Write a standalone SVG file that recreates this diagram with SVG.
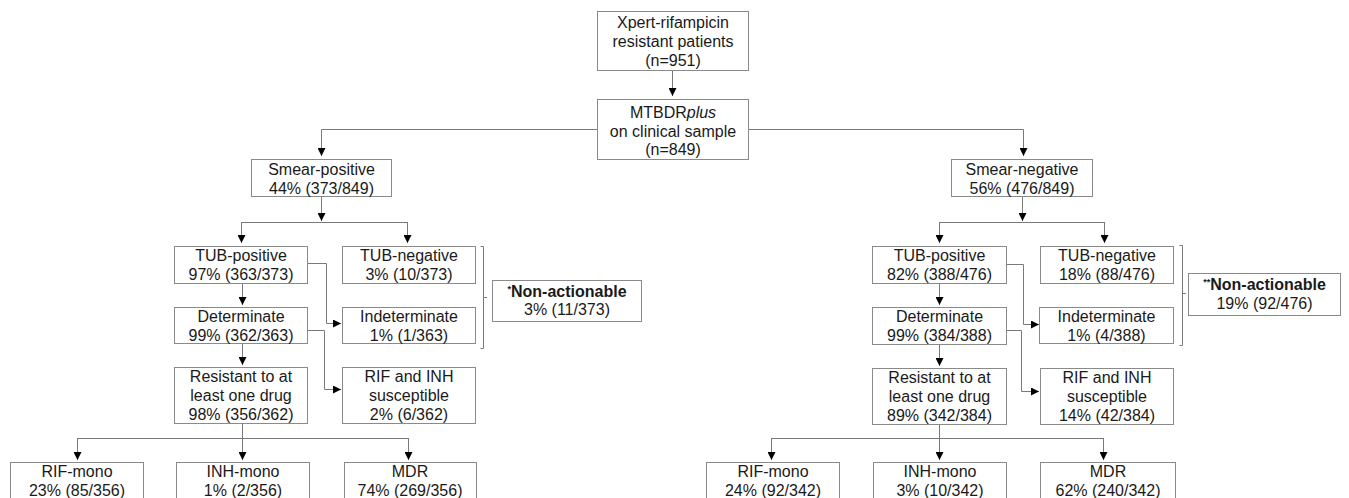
<svg xmlns="http://www.w3.org/2000/svg" width="1349" height="498" viewBox="0 0 1349 498">
<defs>
<marker id="ah" markerUnits="userSpaceOnUse" markerWidth="8" markerHeight="8" refX="8" refY="4" orient="auto"><path d="M0,0 L8,4 L0,8 z" fill="#000"/></marker>
<style>
.b{fill:#fff;stroke:#8a8a8a;stroke-width:1}
.c{fill:none;stroke:#7a7a7a;stroke-width:1}
.a{marker-end:url(#ah)}
text{font-family:"Liberation Sans",Arial,sans-serif;font-size:16px;fill:#1a1a1a;text-anchor:middle}
.bd{font-weight:bold}
</style>
</defs>
<rect width="1349" height="498" fill="#fff"/>
<g id="connectors">
<path class="c a" d="M672.5,71 V96"/>
<path class="c a" d="M597,129.5 H321.5 V156"/>
<path class="c a" d="M749,129.5 H1023.5 V156"/>
<path class="c a" d="M321.5,196 V221"/>
<path class="c" d="M241.5,222.5 H407.5"/>
<path class="c a" d="M241.5,222 V243"/>
<path class="c a" d="M407.5,222 V243"/>
<path class="c a" d="M1022.5,196 V221"/>
<path class="c" d="M939.5,222.5 H1104.5"/>
<path class="c a" d="M939.5,222 V243"/>
<path class="c a" d="M1104.5,222 V243"/>
<path class="c a" d="M242.5,283 V305"/>
<path class="c a" d="M242.5,343 V365"/>
<path class="c a" d="M308,263.5 H326.5 V323.5 H341"/>
<path class="c a" d="M307,330.5 H324.5 V389.5 H341"/>
<path class="c a" d="M939.5,283 V305"/>
<path class="c a" d="M939.5,344 V366"/>
<path class="c a" d="M1006,264.5 H1023.5 V324.5 H1039"/>
<path class="c a" d="M1006,330.5 H1021.5 V391.5 H1039"/>
<path class="c" d="M242.5,423 V438.5"/>
<path class="c" d="M77.5,438.5 H408.5"/>
<path class="c a" d="M77.5,438 V460"/>
<path class="c a" d="M242.5,438 V460"/>
<path class="c a" d="M408.5,438 V460"/>
<path class="c" d="M939.5,424 V438.5"/>
<path class="c" d="M771.5,438.5 H1103.5"/>
<path class="c a" d="M771.5,438 V460"/>
<path class="c a" d="M939.5,438 V460"/>
<path class="c a" d="M1103.5,438 V460"/>
<path class="c" d="M480.5,246.5 H483.5 V348.5 H480.5 M483.5,297.5 H487"/>
<path class="c" d="M1179.5,245.5 H1182.5 V345.5 H1179.5 M1182.5,293.5 H1186"/>
</g>
<g id="n_root"><rect class="b" x="597.5" y="11.5" width="151" height="59"/><text x="673" y="28">Xpert-rifampicin</text><text x="673" y="47">resistant patients</text><text x="673" y="66">(n=951)</text></g>
<g id="n_mtbdr"><rect class="b" x="597.5" y="99.5" width="151" height="60"/><text x="673" y="118">MTBDR<tspan font-style="italic">plus</tspan></text><text x="673" y="137">on clinical sample</text><text x="673" y="155">(n=849)</text></g>
<g id="n_smearpos"><rect class="b" x="251.5" y="159.5" width="140" height="37"/><text x="321.5" y="175">Smear-positive</text><text x="321.5" y="194">44% (373/849)</text></g>
<g id="n_smearneg"><rect class="b" x="951.5" y="159.5" width="141" height="37"/><text x="1022" y="175">Smear-negative</text><text x="1022" y="194">56% (476/849)</text></g>
<g id="n_l_tubpos"><rect class="b" x="174.5" y="246.5" width="133" height="37"/><text x="241" y="261">TUB-positive</text><text x="241" y="280">97% (363/373)</text></g>
<g id="n_l_tubneg"><rect class="b" x="342.5" y="246.5" width="133" height="37"/><text x="409" y="261">TUB-negative</text><text x="409" y="280">3% (10/373)</text></g>
<g id="n_l_det"><rect class="b" x="174.5" y="307.5" width="133" height="36"/><text x="241" y="322">Determinate</text><text x="241" y="341">99% (362/363)</text></g>
<g id="n_l_indet"><rect class="b" x="342.5" y="307.5" width="133" height="36"/><text x="409" y="322">Indeterminate</text><text x="409" y="341">1% (1/363)</text></g>
<g id="n_l_res"><rect class="b" x="174.5" y="367.5" width="133" height="56"/><text x="241" y="382">Resistant to at</text><text x="241" y="401">least one drug</text><text x="241" y="420">98% (356/362)</text></g>
<g id="n_l_sus"><rect class="b" x="342.5" y="367.5" width="133" height="56"/><text x="409" y="382">RIF and INH</text><text x="409" y="401">susceptible</text><text x="409" y="420">2% (6/362)</text></g>
<g id="n_l_na"><rect class="b" x="492.5" y="280.5" width="149" height="41"/><text x="567" y="297"><tspan class="bd" font-size="9" dy="-5">*</tspan><tspan class="bd" dy="5">Non-actionable</tspan></text><text x="567" y="315">3% (11/373)</text></g>
<g id="n_l_rif"><rect class="b" x="10.5" y="462.5" width="133" height="40"/><text x="77" y="477">RIF-mono</text><text x="77" y="496">23% (85/356)</text></g>
<g id="n_l_inh"><rect class="b" x="176.5" y="462.5" width="133" height="40"/><text x="243" y="477">INH-mono</text><text x="243" y="496">1% (2/356)</text></g>
<g id="n_l_mdr"><rect class="b" x="344.5" y="462.5" width="132" height="40"/><text x="410" y="477">MDR</text><text x="410" y="496">74% (269/356)</text></g>
<g id="n_r_tubpos"><rect class="b" x="872.5" y="246.5" width="134" height="37"/><text x="939.5" y="261">TUB-positive</text><text x="939.5" y="280">82% (388/476)</text></g>
<g id="n_r_tubneg"><rect class="b" x="1040.5" y="246.5" width="133" height="37"/><text x="1107" y="261">TUB-negative</text><text x="1107" y="280">18% (88/476)</text></g>
<g id="n_r_det"><rect class="b" x="872.5" y="307.5" width="134" height="37"/><text x="939.5" y="322">Determinate</text><text x="939.5" y="341">99% (384/388)</text></g>
<g id="n_r_indet"><rect class="b" x="1039.5" y="307.5" width="134" height="36"/><text x="1106.5" y="322">Indeterminate</text><text x="1106.5" y="341">1% (4/388)</text></g>
<g id="n_r_res"><rect class="b" x="872.5" y="368.5" width="134" height="56"/><text x="939.5" y="383">Resistant to at</text><text x="939.5" y="402">least one drug</text><text x="939.5" y="421">89% (342/384)</text></g>
<g id="n_r_sus"><rect class="b" x="1040.5" y="368.5" width="133" height="56"/><text x="1107" y="383">RIF and INH</text><text x="1107" y="402">susceptible</text><text x="1107" y="421">14% (42/384)</text></g>
<g id="n_r_na"><rect class="b" x="1188.5" y="273.5" width="152" height="42"/><text x="1264.5" y="290"><tspan class="bd" font-size="9" dy="-5">**</tspan><tspan class="bd" dy="5">Non-actionable</tspan></text><text x="1264.5" y="309">19% (92/476)</text></g>
<g id="n_r_rif"><rect class="b" x="706.5" y="462.5" width="133" height="40"/><text x="773" y="477">RIF-mono</text><text x="773" y="496">24% (92/342)</text></g>
<g id="n_r_inh"><rect class="b" x="873.5" y="462.5" width="133" height="40"/><text x="940" y="477">INH-mono</text><text x="940" y="496">3% (10/342)</text></g>
<g id="n_r_mdr"><rect class="b" x="1040.5" y="462.5" width="135" height="40"/><text x="1108" y="477">MDR</text><text x="1108" y="496">62% (240/342)</text></g>
</svg>
